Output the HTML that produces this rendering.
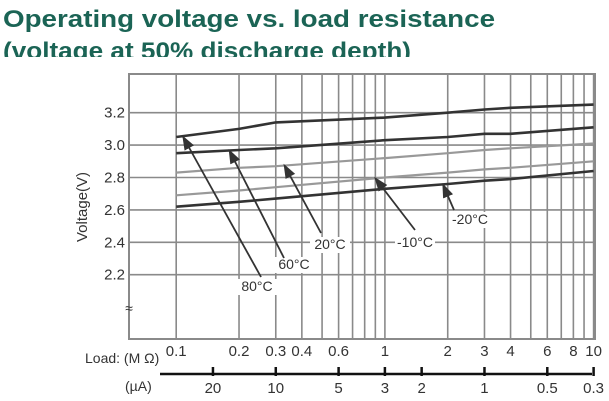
<!DOCTYPE html>
<html><head><meta charset="utf-8"><style>
html,body{margin:0;padding:0;background:#fff;}
svg{display:block;font-family:"Liberation Sans",Arial,sans-serif;}
</style></head><body>
<svg id="chart" width="609" height="401" viewBox="0 0 609 401">
<text x="3" y="27" font-size="24" font-weight="bold" fill="#1b6455" textLength="492" lengthAdjust="spacingAndGlyphs">Operating voltage vs. load resistance</text>
<text x="3" y="59" font-size="24" font-weight="bold" fill="#1b6455" textLength="408" lengthAdjust="spacingAndGlyphs">(voltage at 50% discharge depth)</text>
<rect x="0" y="57" width="609" height="14" fill="#fff"/>
<g id="grid"></g><g id="series"></g><g id="annot"></g><g id="axes"></g>
</svg>
<script>
const ohmTicks=[0.1,0.2,0.3,0.4,0.6,1,2,3,4,6,8,10];
const gridR=[0.1,0.2,0.3,0.4,0.5,0.6,0.7,0.8,0.9,1,2,3,4,5,6,7,8,9,10];
const voltTicks=[3.2,3.0,2.8,2.6,2.4,2.2];
const uaTicks=[20,10,5,3,2,1,0.5,0.3];
const loadR=[0.1,0.2,0.3,1,2,3,4,10];
const v80=[3.05,3.10,3.14,3.17,3.20,3.22,3.23,3.25];
const v60=[2.95,2.97,2.98,3.03,3.05,3.07,3.07,3.11];
const v20=[2.83,2.86,2.87,2.92,2.95,2.97,2.98,3.01];
const vm10=[2.69,2.72,2.74,2.80,2.83,2.85,2.86,2.90];
const vm20=[2.62,2.65,2.67,2.73,2.76,2.78,2.79,2.84];
const seriesNames=["80°C","60°C","20°C","-10°C","-20°C"];
const NS="http://www.w3.org/2000/svg";
const L=129,R=595,T=74,B=339;
const x=r=>176.2+208.7*Math.log10(r/0.1);
const y=v=>112.7+(3.2-v)*162;
function mk(tag,attrs,parent,txt){const e=document.createElementNS(NS,tag);for(const k in attrs)e.setAttribute(k,attrs[k]);if(txt!==undefined)e.textContent=txt;parent.appendChild(e);return e;}
const grid=document.getElementById('grid'),ser=document.getElementById('series'),ann=document.getElementById('annot'),ax=document.getElementById('axes');
const gc="#8a8a8a";
const frame=mk('rect',{x:L,y:T,width:R-L,height:B-T,fill:'none',stroke:gc,'stroke-width':2},grid);


gridR.forEach(r=>{const l=mk('line',{x1:x(r),x2:x(r),y1:T,y2:B,stroke:gc,'stroke-width':1.6},grid);

});
voltTicks.forEach(v=>{const l=mk('line',{x1:L,x2:R,y1:y(v),y2:y(v),stroke:gc,'stroke-width':1.6},grid);


const t=mk('text',{x:125,y:y(v)+5,'font-size':15,'text-anchor':'end',fill:'#333'},ax,v.toFixed(1));

});
const brk=mk('text',{x:129,y:313,'font-size':14,'text-anchor':'middle',fill:'#333'},ax,'≈');


const yt=mk('text',{transform:'translate(87,207) rotate(-90)','font-size':15,'text-anchor':'middle',fill:'#333'},ax,'Voltage(V)');


const allV=[v80,v60,v20,vm10,vm20];
const colors=["#333","#333","#999","#999","#333"];
allV.forEach((vals,i)=>{const d=loadR.map((r,j)=>(j?'L':'M')+x(r).toFixed(1)+','+y(vals[j]).toFixed(1)).join(' ');
const p=mk('path',{d:d,fill:'none',stroke:colors[i],'stroke-width':colors[i]=="#333"?2.6:2.2},ser);

});
const labelPos=[[257,291],[294,269],[330,249],[415,247],[470,224]];
const arrowFrom=[[261,277],[284,258],[321,233],[415,230],[454,210]];
const arrowTo=[[0.108,3.05],[0.18,2.965],[0.33,2.875],[0.9,2.795],[1.9,2.755]];
mk('defs',{},ann).innerHTML='<marker id="ah" markerWidth="8" markerHeight="8" refX="7" refY="4" orient="auto"><path d="M0,1 L8,4 L0,7 z" fill="#333"/></marker>';
seriesNames.forEach((n,i)=>{const [lx,ly]=labelPos[i];
const bg=mk('rect',{x:lx-20,y:ly-12,width:40,height:16,fill:'#fff'},ann);


const a=mk('line',{x1:arrowFrom[i][0],y1:arrowFrom[i][1],x2:x(arrowTo[i][0]),y2:y(arrowTo[i][1]),stroke:'#333','stroke-width':1.8,'marker-end':'url(#ah)'},ann);


const t=mk('text',{x:lx,y:ly,'font-size':14,'text-anchor':'middle',fill:'#333'},ann,n);

});
ohmTicks.forEach(r=>{const t=mk('text',{x:x(r),y:356,'font-size':15,'text-anchor':'middle',fill:'#333'},ax,String(r));

});
const lt=mk('text',{x:85,y:363,'font-size':14,'text-anchor':'start',fill:'#333'},ax,'Load: (M Ω)');


const ua=mk('text',{x:125,y:391,'font-size':14,'text-anchor':'start',fill:'#333'},ax,'(µA)');


const cl=mk('line',{x1:160,x2:592,y1:374,y2:374,stroke:'#111','stroke-width':2.5},ax);


uaTicks.forEach(u=>{const xx=x(3/u);
const tk=mk('line',{x1:xx,x2:xx,y1:367,y2:376,stroke:'#111','stroke-width':2.5},ax);


const t=mk('text',{x:xx,y:393,'font-size':15,'text-anchor':'middle',fill:'#333'},ax,String(u));

});
</script>
</body></html>
